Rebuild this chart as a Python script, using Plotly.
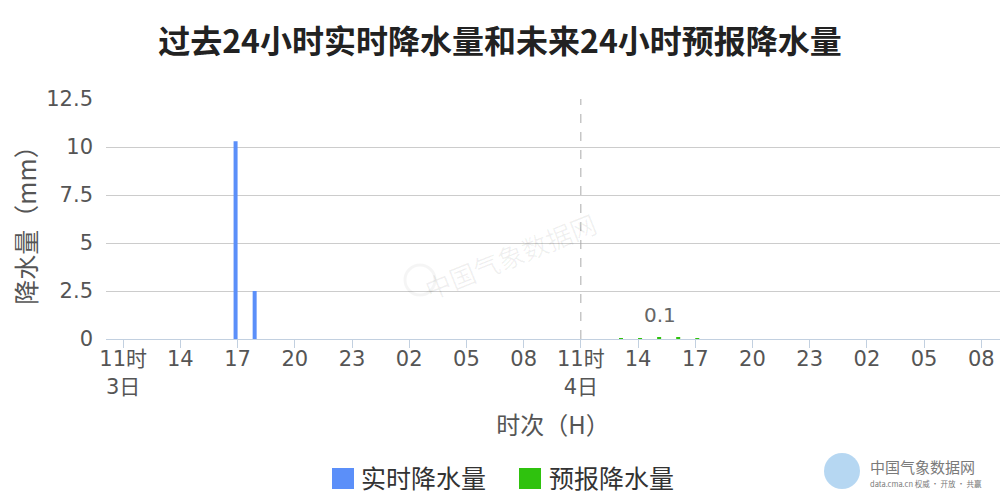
import plotly.graph_objects as go

# ---------------- data ----------------
hours_day3 = [f"3日{h:02d}时" for h in range(11, 24)]
hours_day4 = [f"4日{h:02d}时" for h in range(0, 24)]
hours_day5 = [f"5日{h:02d}时" for h in range(0, 10)]
categories = hours_day3 + hours_day4 + hours_day5

observed_cats = categories[:24]
observed_vals = [0, 0, 0, 0, 0, 0, 10.3, 2.5, 0, 0, 0, 0,
                 0, 0, 0, 0, 0, 0, 0, 0, 0, 0, 0, 0]

forecast_cats = categories[24:]
forecast_vals = [0, 0, 0.05, 0.05, 0.1, 0.1, 0.05, 0, 0, 0, 0, 0,
                 0, 0, 0, 0, 0, 0, 0, 0, 0, 0, 0, 0]

tick_cats = categories[0:46:3]
tick_text = ["11时<br>3日", "14", "17", "20", "23", "02", "05", "08",
             "11时<br>4日", "14", "17", "20", "23", "02", "05", "08"]

forecast_start = categories[24]
yticks = [0, 2.5, 5, 7.5, 10, 12.5]
ytick_text = ["0", "2.5", "5", "7.5", "10", "12.5"]

title_text = "过去24小时实时降水量和未来24小时预报降水量"
series_names = ["实时降水量", "预报降水量"]
series_colors = ["#5b8ff9", "#2fc20e"]
label_text = "0.1"

# ---------------- figure ----------------
FONT = "DejaVu Sans, Noto Sans CJK SC, sans-serif"
CJK = "Noto Sans CJK SC, sans-serif"

L, R, T, B = 106, 0, 99, 161
PW, PH = 1000 - L - R, 500 - T - B


def px(x):
    return (x - L) / PW


def py(y):
    return (500 - B - y) / PH


BW = 0.21
fig = go.Figure()
fig.add_bar(x=observed_cats, y=observed_vals, name=series_names[0],
            width=BW, offset=-BW, showlegend=False,
            marker=dict(color=series_colors[0], line=dict(width=0)))
fig.add_bar(x=forecast_cats, y=forecast_vals, name=series_names[1],
            width=BW, offset=0, showlegend=False,
            marker=dict(color=series_colors[1], line=dict(width=0)))

# label on forecast max
fmax = max(forecast_vals)
fidx = forecast_vals.index(fmax)
fig.add_annotation(x=forecast_cats[fidx], y=fmax, text=label_text,
                   showarrow=False, yshift=22, xshift=3,
                   font=dict(family=FONT, size=20, color="#666666"))

# dashed divider at forecast start
fig.add_shape(type="line", x0=forecast_start, x1=forecast_start,
              y0=0, y1=1, yref="paper", xref="x",
              line=dict(color="#aaaaaa", width=1, dash="dash"))

# custom legend (squares + text)
legend_boxes = [(332, 354), (519, 541)]
legend_text_x = [359, 547]
for name, col, (x0, x1), tx in zip(series_names, series_colors,
                                   legend_boxes, legend_text_x):
    fig.add_shape(type="rect", xref="paper", yref="paper",
                  x0=px(x0), x1=px(x1), y0=py(489), y1=py(468),
                  line=dict(width=0), fillcolor=col)
    fig.add_annotation(text=name, xref="paper", yref="paper",
                       x=px(tx), y=py(477), xanchor="left", yanchor="middle",
                       showarrow=False,
                       font=dict(family=CJK, size=25, color="#333333"))

# watermark (center)
fig.add_shape(type="circle", xref="paper", yref="paper",
              x0=px(405), x1=px(435), y0=py(295), y1=py(265),
              line=dict(width=3, color="rgba(0,0,0,0.04)"),
              fillcolor="rgba(0,0,0,0)")
fig.add_annotation(text="中国气象数据网", xref="paper", yref="paper",
                   x=px(510), y=py(255), showarrow=False, textangle=-22,
                   font=dict(family=CJK, size=26, color="rgba(0,0,0,0.06)"))

# logo (bottom right)
fig.add_shape(type="circle", xref="paper", yref="paper",
              x0=px(824), x1=px(860), y0=py(489), y1=py(453),
              line=dict(width=0), fillcolor="rgba(110,175,230,0.5)")
fig.add_annotation(text="中国气象数据网", xref="paper", yref="paper",
                   x=px(868), y=py(466), xanchor="left", yanchor="middle",
                   showarrow=False,
                   font=dict(family=CJK, size=15, color="#7a7a7a"))
fig.add_annotation(text="data.cma.cn 权威 · 开放 · 共赢", xref="paper",
                   yref="paper", x=px(868), y=py(484),
                   xanchor="left", yanchor="middle", showarrow=False,
                   font=dict(family=CJK, size=7.5, color="#7a7a7a"))

fig.update_layout(
    width=1000, height=500,
    paper_bgcolor="white", plot_bgcolor="white",
    margin=dict(l=L, r=R, t=T, b=B),
    barmode="overlay", showlegend=False,
    title=dict(text=f"<b>{title_text}</b>", x=0.5, xref="container",
               y=1 - 42 / 500, yref="container", yanchor="middle",
               xanchor="center",
               font=dict(family=CJK, size=32, color="#222222")),
    xaxis=dict(type="category", categoryorder="array",
               categoryarray=categories,
               range=[-0.9, 45.98],
               tickmode="array", tickvals=tick_cats, ticktext=tick_text,
               ticks="outside", ticklen=8, tickcolor="#c2d0e0",
               ticklabelstandoff=-7,
               showline=True, linecolor="#c2d0e0", linewidth=1,
               showgrid=False, zeroline=False,
               tickfont=dict(family=FONT, size=21, color="#555555"),
               title=dict(text="时次（H）", standoff=19,
                          font=dict(family=CJK, size=24, color="#555555"))),
    yaxis=dict(range=[0, 12.5], tickmode="array", tickvals=yticks,
               ticktext=ytick_text, showgrid=True, gridcolor="#cccccc",
               zeroline=False, showline=False, ticks="",
               ticklabelstandoff=12,
               tickfont=dict(family=FONT, size=21, color="#555555"),
               title=dict(text="降水量（mm）", standoff=2,
                          font=dict(family=CJK, size=25, color="#555555"))),
)

fig.write_html("out.html",
               config={"displayModeBar": False},
               post_script="document.body.style.margin='0';"
                           "document.body.style.overflow='hidden';")
